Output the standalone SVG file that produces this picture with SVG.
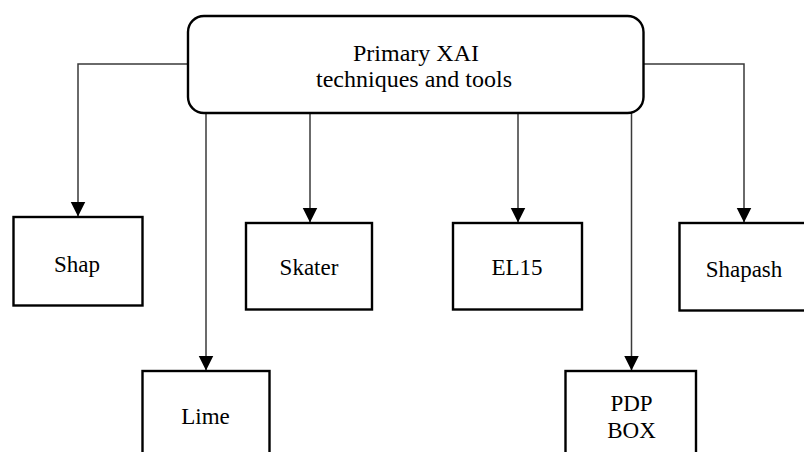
<svg xmlns="http://www.w3.org/2000/svg" width="804" height="452" viewBox="0 0 804 452">
  <style>
    .box { fill: #ffffff; stroke: #000000; stroke-width: 2.4; }
    .edge { fill: none; stroke: #3a3a3a; stroke-width: 1.5; marker-end: url(#arrow); }
    .label { font-family: "Liberation Serif", "Times New Roman", serif; font-size: 23px; fill: #000000; text-anchor: middle; }
    .title { font-size: 24px; }
  </style>
  <defs>
    <marker id="arrow" markerUnits="userSpaceOnUse" markerWidth="16" markerHeight="16" viewBox="0 0 16 16" refX="15" refY="8" orient="auto">
      <path d="M0,0.5 L15,8 L0,15.5 Z" fill="#000000"/>
    </marker>
  </defs>
  <rect width="804" height="452" fill="#ffffff"/>

  <!-- connectors -->
  <g id="connectors">
    <path class="edge" d="M188,64 H78 V216.5"/>
    <path class="edge" d="M206,113 V370.5"/>
    <path class="edge" d="M310,113 V222.5"/>
    <path class="edge" d="M518,113 V222.5"/>
    <path class="edge" d="M631.5,113 V370.5"/>
    <path class="edge" d="M643,64 H744 V222.5"/>
  </g>

  <!-- root node -->
  <g id="root">
    <rect class="box" x="188" y="16" width="455.5" height="97" rx="16" ry="16"/>
    <text class="label title" x="416" y="60.5">Primary XAI</text>
    <text class="label title" x="414" y="86.5">techniques and tools</text>
  </g>

  <g id="shap">
    <rect class="box" x="13.5" y="217" width="129" height="88.5"/>
    <text class="label" x="77" y="271.5">Shap</text>
  </g>

  <g id="skater">
    <rect class="box" x="246" y="223" width="126" height="86.5"/>
    <text class="label" x="309" y="275">Skater</text>
  </g>

  <g id="el15">
    <rect class="box" x="453" y="223" width="129" height="86.5"/>
    <text class="label" x="517" y="275">EL15</text>
  </g>

  <g id="shapash">
    <rect class="box" x="679.5" y="223" width="130" height="87.5"/>
    <text class="label" x="744" y="277">Shapash</text>
  </g>

  <g id="lime">
    <rect class="box" x="142.5" y="371" width="127" height="100"/>
    <text class="label" x="205.5" y="424">Lime</text>
  </g>

  <g id="pdpbox">
    <rect class="box" x="565.5" y="371" width="130.5" height="100"/>
    <text class="label" x="631.5" y="410.5">PDP</text>
    <text class="label" x="631.5" y="438">BOX</text>
  </g>
</svg>
